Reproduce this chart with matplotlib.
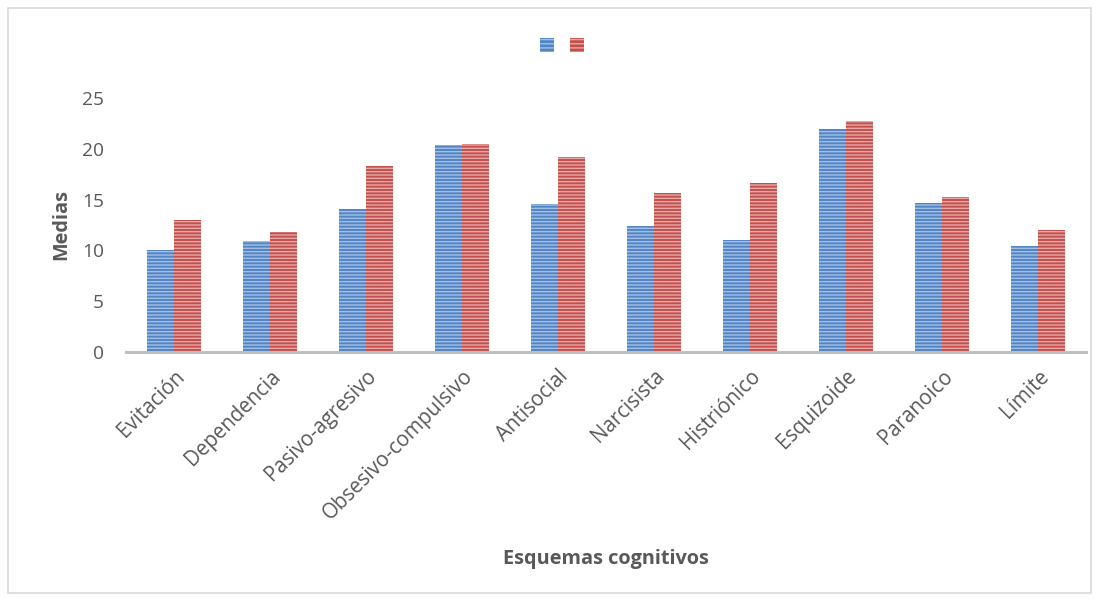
import matplotlib
matplotlib.use("Agg")
from matplotlib import pyplot as plt
from matplotlib.patches import Rectangle
import numpy as np

plt.rcParams['font.family'] = ['Open Sans', 'DejaVu Sans']
plt.rcParams['hatch.linewidth'] = 1.0

esquemas = ["Evitación", "Dependencia", "Pasivo-agresivo", "Obsesivo-compulsivo",
            "Antisocial", "Narcisista", "Histriónico", "Esquizoide", "Paranoico", "Límite"]
serie_azul = [10.0, 10.9, 14.1, 20.4, 14.6, 12.4, 11.0, 21.95, 14.7, 10.4]
serie_roja = [13.0, 11.8, 18.3, 20.45, 19.2, 15.65, 16.6, 22.7, 15.3, 12.0]
yticks = [0, 5, 10, 15, 20, 25]

fig = plt.figure(figsize=(10.99, 6.0), dpi=100)
ax = fig.add_axes([0.1147, 0.4133, 0.8735, 0.4233])

# marco exterior del grafico
fig.patches.append(Rectangle((0.007, 0.012), 0.986, 0.975, transform=fig.transFigure,
                             fill=False, edgecolor='#D9D9D9', linewidth=1.2))

x = np.arange(len(esquemas))
w = 0.28
azul, azul_rayas = '#5185C6', '#A3BFE4'
rojo, rojo_rayas = '#C4504D', '#E6A9A7'
gris = '#595959'

b1 = ax.bar(x - w / 2, serie_azul, w, color=azul, linewidth=0)
b2 = ax.bar(x + w / 2, serie_roja, w, color=rojo, linewidth=0)
# rayas horizontales encima
ax.bar(x - w / 2, serie_azul, w, fill=False, edgecolor=azul_rayas, hatch='-----', linewidth=0)
ax.bar(x + w / 2, serie_roja, w, fill=False, edgecolor=rojo_rayas, hatch='-----', linewidth=0)

ax.set_xlim(-0.5, len(esquemas) - 0.5)
ax.set_ylim(0, 25)
ax.set_yticks(yticks)
ax.set_xticks(x)
ax.set_xticklabels(esquemas, rotation=45, ha='right', rotation_mode='anchor')
ax.tick_params(axis='both', length=0, colors=gris)
ax.tick_params(axis='y', pad=16, labelsize=13.8)
ax.tick_params(axis='x', pad=10, labelsize=14.8)

for s in ['top', 'right', 'left']:
    ax.spines[s].set_visible(False)
ax.spines['bottom'].set_color('#BFBFBF')
ax.spines['bottom'].set_linewidth(2.2)

fig.text(0.056, 0.625, "Medias", fontsize=14.3, fontweight='bold', color=gris,
         rotation=90, ha='center', va='center')
fig.text(0.551, 0.068, "Esquemas cognitivos", fontsize=14.3, fontweight='bold',
         color=gris, ha='center', va='center')

# leyenda sin texto
leg = ax.legend([b1, b2], ["", ""], loc='center', bbox_to_anchor=(0.511, 0.922),
                bbox_transform=fig.transFigure, ncol=2, frameon=False, fontsize=13.5,
                handlelength=0.75, handleheight=0.75, columnspacing=0.85, handletextpad=0.0)
for h, c in zip(leg.legend_handles, [azul_rayas, rojo_rayas]):
    h.set_hatch('----')
    h.set_edgecolor(c)
    h.set_linewidth(0)

fig.savefig("out.png", dpi=100)
